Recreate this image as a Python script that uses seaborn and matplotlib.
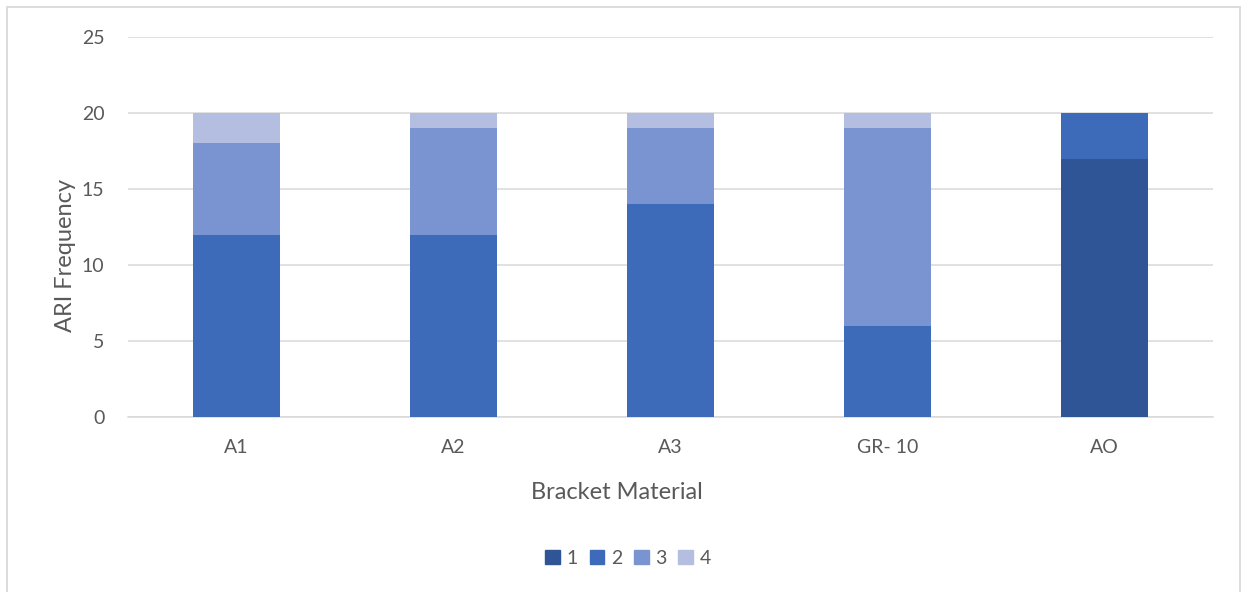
import matplotlib
matplotlib.use("Agg")
import matplotlib.pyplot as plt
import matplotlib.patches as mpatches
import numpy as np
import pandas as pd
import seaborn as sns

# Bracket materials and ARI score counts
materials = ["A1", "A2", "A3", "GR- 10", "AO"]
ari_scores = ["1", "2", "3", "4"]
score_1 = [0, 0, 0, 0, 17]
score_2 = [12, 12, 14, 6, 3]
score_3 = [6, 7, 5, 13, 0]
score_4 = [2, 1, 1, 1, 0]
colors = ["#2F5597", "#3E6BB9", "#7A93D1", "#B3BEE0"]

sns.set_theme(style="white")
plt.rcParams["font.family"] = ["Lato", "DejaVu Sans"]
text_color = "#595959"

fig = plt.figure(figsize=(12.44, 5.92), dpi=100)
ax = fig.add_axes([0.1029, 0.2956, 0.8721, 0.6419])

series = [score_1, score_2, score_3, score_4]
cum = np.cumsum(np.array(series), axis=0)

# Stacked bars: draw cumulative totals from the top layer down
for i in range(len(series) - 1, -1, -1):
    df = pd.DataFrame({"material": materials, "value": cum[i]})
    sns.barplot(data=df, x="material", y="value", color=colors[i],
                width=0.40, saturation=1, ax=ax, zorder=3, linewidth=0)

ax.set_ylim(0, 25)
ax.set_yticks([0, 5, 10, 15, 20, 25])
ax.set_xlim(-0.5, len(materials) - 0.5)
ax.yaxis.grid(True, color="#D9D9D9", linewidth=1.1, zorder=0)
ax.set_axisbelow(True)
for s in ["top", "right", "left"]:
    ax.spines[s].set_visible(False)
ax.spines["bottom"].set_color("#D9D9D9")
ax.spines["bottom"].set_linewidth(1.1)
ax.tick_params(axis="both", length=0, labelsize=14, colors=text_color)
ax.tick_params(axis="y", pad=17)
ax.tick_params(axis="x", pad=16)
ax.set_xlabel("Bracket Material", fontsize=17, color=text_color)
ax.set_ylabel("ARI Frequency", fontsize=17, color=text_color)
ax.xaxis.set_label_coords(0.4507, -0.170)
ax.yaxis.set_label_coords(-0.048, 0.424)

handles = [mpatches.Patch(color=c, label=l) for c, l in zip(colors, ari_scores)]
fig.legend(handles=handles, loc="center", bbox_to_anchor=(0.505, 0.0574),
           ncol=4, frameon=False, fontsize=14, labelcolor=text_color,
           handlelength=0.75, handleheight=0.75, handletextpad=0.35,
           columnspacing=0.6)

# Chart area frame
frame = mpatches.Rectangle((7 / 1244, -0.05), 1233 / 1244, 1.05 - 7 / 592,
                           transform=fig.transFigure, fill=False,
                           edgecolor="#D9D9D9", linewidth=1.3)
fig.patches.append(frame)

fig.savefig("out.png", dpi=100, facecolor="white")
